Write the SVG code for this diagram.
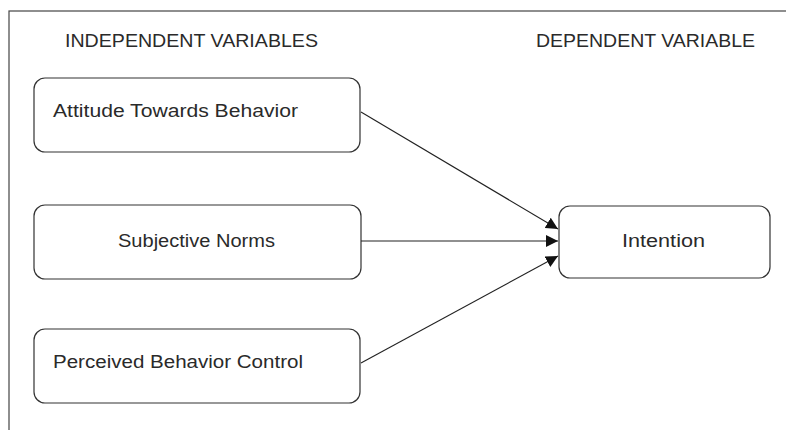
<svg xmlns="http://www.w3.org/2000/svg" width="786" height="430" viewBox="0 0 786 430">
<style>
.box{fill:#fff;stroke:#333;stroke-width:1.2}
.t{font-family:"Liberation Sans",Arial,sans-serif;font-size:17.5px;fill:#2a2a2a}
.c{stroke:#222;stroke-width:1.1;fill:none}
</style>
<defs>
<marker id="ah" viewBox="0 0 10 10" refX="10" refY="5" markerWidth="12" markerHeight="12" markerUnits="userSpaceOnUse" orient="auto">
<path d="M0,0 L10,5 L0,10 z" fill="#111"/>
</marker>
</defs>
<rect x="0" y="0" width="786" height="430" fill="#fff"/>
<rect x="9" y="11" width="800" height="440" fill="none" stroke="#444" stroke-width="1.2"/>
<text class="t" x="65" y="47" textLength="253" lengthAdjust="spacingAndGlyphs">INDEPENDENT VARIABLES</text>
<text class="t" x="536" y="47" textLength="219" lengthAdjust="spacingAndGlyphs">DEPENDENT VARIABLE</text>
<g id="attitude">
<rect class="box" x="34" y="78" width="326" height="74" rx="11"/>
<text class="t" x="53" y="117" textLength="245" lengthAdjust="spacingAndGlyphs">Attitude Towards Behavior</text>
</g>
<g id="norms">
<rect class="box" x="34" y="205" width="327" height="74" rx="11"/>
<text class="t" x="118" y="247" textLength="157" lengthAdjust="spacingAndGlyphs">Subjective Norms</text>
</g>
<g id="control">
<rect class="box" x="34" y="329" width="326" height="74" rx="11"/>
<text class="t" x="53" y="368" textLength="250" lengthAdjust="spacingAndGlyphs">Perceived Behavior Control</text>
</g>
<g id="intention">
<rect class="box" x="559" y="206" width="211" height="72" rx="11"/>
<text class="t" x="622" y="247" textLength="83" lengthAdjust="spacingAndGlyphs">Intention</text>
</g>
<g id="connectors">
<line class="c" x1="361" y1="112" x2="558" y2="229" marker-end="url(#ah)"/>
<line class="c" x1="361" y1="241" x2="558" y2="241" marker-end="url(#ah)"/>
<line class="c" x1="361" y1="363" x2="558" y2="256" marker-end="url(#ah)"/>
</g>
</svg>
